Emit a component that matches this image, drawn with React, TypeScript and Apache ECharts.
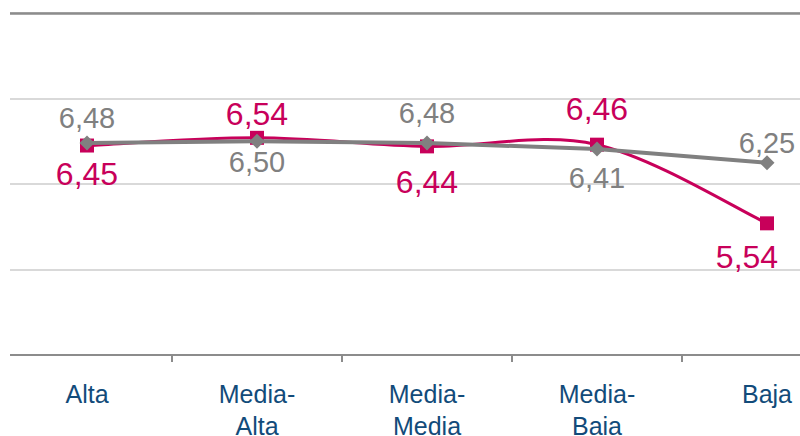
import React, { useEffect, useRef } from "react";
import * as echarts from "echarts";

const categories = ["Alta", "Media-\nAlta", "Media-\nMedia", "Media-\nBaia", "Baja"];
const seriesMagenta = [6.45, 6.54, 6.44, 6.46, 5.54];
const seriesGray = [6.48, 6.5, 6.48, 6.41, 6.25];
const yMin = 4;
const yMax = 8;
const yInterval = 1;

// label offsets (px from point to label centre)
const magentaLabelOffsets = [[0, 28.5], [0, -23.5], [0, 35.5], [0, -36], [-20, 33.5]];
const grayLabelOffsets = [[0, -24.5], [0, 21], [0, -29.5], [0, 29], [0, -20]];

const MAGENTA = "#C8005A";
const GRAY = "#808080";
const FONT = "Liberation Sans, Arial, sans-serif";
const fmt = (v: number) => v.toFixed(2).replace(".", ",");

export default function App() {
  const ref = useRef<HTMLDivElement>(null);
  useEffect(() => {
    if (!ref.current) return;
    const chart = echarts.init(ref.current, null, { renderer: "svg" });
    const mkData = (vals: number[], offs: number[][], color: string, size: number) =>
      vals.map((v, i) => ({
        value: v,
        label: {
          show: true,
          position: "inside",
          offset: offs[i],
          formatter: fmt(v),
          color,
          fontSize: size,
          fontFamily: FONT,
        },
      }));
    const n = seriesMagenta.length;
    chart.setOption({
      animation: false,
      grid: { left: 2, top: 13, width: 850, height: 342, outerBoundsMode: "none", containLabel: false },
      xAxis: [
        {
          type: "category",
          data: categories,
          boundaryGap: true,
          axisLine: { show: true, lineStyle: { color: "#8c8c8c", width: 2 } },
          axisTick: { show: true, length: 7, lineStyle: { color: "#8c8c8c", width: 2 } },
          axisLabel: {
            color: "#124B7A",
            fontSize: 25,
            lineHeight: 32,
            margin: 23,
            fontFamily: FONT,
            verticalAlign: "top",
          },
        },
        {
          type: "category",
          data: categories,
          position: "top",
          axisLine: { show: true, lineStyle: { color: "#8c8c8c", width: 2.5 } },
          axisTick: { show: false },
          axisLabel: { show: false },
        },
      ],
      yAxis: {
        type: "value",
        min: yMin,
        max: yMax,
        interval: yInterval,
        axisLabel: { show: false },
        axisLine: { show: false },
        axisTick: { show: false },
        splitLine: { show: true, lineStyle: { color: "#d9d9d9", width: 2 } },
      },
      series: [
        {
          type: "custom",
          data: seriesMagenta.map((v, i) => [i, v]),
          z: 1,
          silent: true,
          renderItem: (params: any, api: any) => {
            const i = params.dataIndex;
            if (i >= n - 1) return null;
            const P = (k: number) => {
              const kk = Math.max(0, Math.min(n - 1, k));
              return api.coord([kk, seriesMagenta[kk]]);
            };
            const p0 = P(i - 1);
            const p1 = P(i);
            const p2 = P(i + 1);
            const p3 = P(i + 2);
            return {
              type: "bezierCurve",
              shape: {
                x1: p1[0],
                y1: p1[1],
                cpx1: p1[0] + (p2[0] - p0[0]) / 6,
                cpy1: p1[1] + (p2[1] - p0[1]) / 6,
                cpx2: p2[0] - (p3[0] - p1[0]) / 6,
                cpy2: p2[1] - (p3[1] - p1[1]) / 6,
                x2: p2[0],
                y2: p2[1],
              },
              style: { stroke: MAGENTA, lineWidth: 3, fill: "none" },
            };
          },
        },
        {
          type: "line",
          data: mkData(seriesMagenta, magentaLabelOffsets, MAGENTA, 32),
          symbol: "rect",
          symbolSize: 14,
          lineStyle: { color: MAGENTA, width: 0, opacity: 0 },
          itemStyle: { color: MAGENTA },
          z: 2,
        },
        {
          type: "line",
          data: mkData(seriesGray, grayLabelOffsets, GRAY, 29),
          symbol: "diamond",
          symbolSize: 15,
          lineStyle: { color: GRAY, width: 4 },
          itemStyle: { color: GRAY },
          z: 3,
        },
      ],
      graphic: [
        {
          type: "rect",
          left: 0,
          top: 0,
          shape: { x: 0, y: 0, width: 10, height: 370 },
          style: { fill: "#ffffff" },
          z: 100,
        },
      ],
    });
    return () => chart.dispose();
  }, []);
  return (
    <div
      ref={ref}
      style={{ position: "absolute", left: 0, top: 0, width: 800, height: 436 }}
    />
  );
}
